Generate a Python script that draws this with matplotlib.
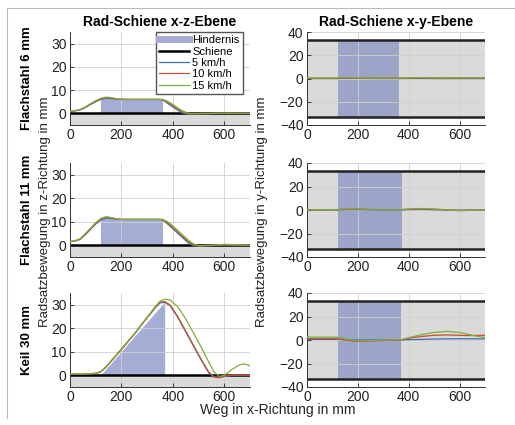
import matplotlib.pyplot as plt
from matplotlib.lines import Line2D

W, H = 515, 425

# ---- daten ----
speeds = ['5 km/h', '10 km/h', '15 km/h']
farben = ['#3f6fb0', '#c8502a', '#7fae3a']
reihen = ['Flachstahl 6 mm', 'Flachstahl 11 mm', 'Keil 30 mm']

# x-z Ebene
x1 = [0, 20, 40, 60, 80, 100, 120, 140, 160, 180, 200, 250, 300, 350, 360,
      380, 400, 420, 440, 460, 500, 600, 700]
z1_5 = [1.0, 1.1, 1.5, 2.5, 3.8, 5.0, 6.0, 6.5, 6.4, 6.1, 6.0, 6.0, 6.0, 6.0,
        5.8, 4.3, 2.8, 1.3, 0.0, -0.2, 0.0, 0.0, 0.0]
z1_10 = [1.0, 1.1, 1.6, 2.7, 4.0, 5.3, 6.3, 6.8, 6.6, 6.2, 6.0, 6.0, 6.0, 6.0,
         5.9, 4.8, 3.3, 1.8, 0.5, -0.3, 0.0, 0.0, 0.0]
z1_15 = [1.0, 1.2, 1.7, 2.8, 4.2, 5.5, 6.5, 7.0, 6.8, 6.3, 6.1, 6.0, 6.0, 6.0,
         6.0, 5.2, 3.8, 2.3, 1.0, 0.0, -0.2, 0.1, 0.0]

x2 = [0, 20, 40, 60, 80, 100, 120, 140, 160, 180, 200, 250, 300, 350, 360,
      380, 400, 420, 440, 460, 480, 500, 550, 600, 700]
z2_5 = [1.5, 1.8, 2.5, 4.5, 6.8, 9.0, 10.8, 11.5, 11.4, 11.1, 11.0, 11.0, 11.0,
        11.0, 10.8, 9.0, 7.0, 5.0, 3.0, 1.0, -0.2, -0.3, 0.0, 0.0, 0.0]
z2_10 = [1.5, 1.9, 2.7, 4.8, 7.1, 9.4, 11.2, 12.0, 11.7, 11.2, 11.0, 11.0, 11.0,
         11.0, 10.9, 9.5, 7.6, 5.6, 3.6, 1.6, 0.2, -0.3, 0.0, 0.2, 0.0]
z2_15 = [1.6, 2.0, 2.8, 5.0, 7.3, 9.6, 11.4, 12.1, 11.8, 11.3, 11.0, 11.0, 11.0,
         11.0, 11.0, 10.0, 8.2, 6.2, 4.2, 2.2, 0.6, -0.2, -0.1, 0.4, 0.0]

x3 = [0, 50, 100, 120, 140, 160, 200, 250, 300, 330, 350, 370, 390, 420, 450,
      480, 510, 540, 560, 580, 600, 630, 660, 680, 700]
z3_5 = [0.5, 0.5, 0.8, 1.5, 3.5, 6.0, 11.0, 17.5, 24.5, 28.5, 30.8, 31.0, 29.5,
        24.5, 18.5, 12.5, 6.5, 1.0, -0.8, -1.0, -0.5, 0.0, 0.0, 0.0, 0.0]
z3_10 = [0.5, 0.5, 0.8, 1.5, 3.5, 6.0, 11.0, 17.5, 24.5, 28.7, 31.2, 31.3, 29.8,
         24.8, 18.8, 12.8, 6.8, 1.3, -0.6, -1.0, -0.4, 0.0, 0.0, 0.0, 0.0]
z3_15 = [0.5, 0.5, 0.8, 1.6, 3.7, 6.2, 11.2, 17.7, 24.7, 29.0, 31.5, 32.4, 32.0,
         29.0, 24.0, 18.0, 12.0, 5.5, 1.5, -0.5, 0.0, 2.5, 4.5, 4.8, 4.0]

# x-y Ebene
xy = [0, 100, 120, 150, 200, 250, 300, 370, 400, 450, 500, 550, 600, 650, 700]
y1_5 = [0.0, 0.0, 0.0, 0.1, 0.1, 0.0, 0.0, 0.0, 0.1, 0.1, 0.0, 0.0, 0.0, 0.0, 0.0]
y1_10 = [0.2, 0.2, 0.3, 0.5, 0.3, 0.2, 0.2, 0.3, 0.4, 0.6, 0.4, 0.3, 0.3, 0.4, 0.3]
y1_15 = [0.4, 0.4, 0.5, 0.7, 0.5, 0.4, 0.4, 0.5, 0.6, 0.8, 0.6, 0.5, 0.6, 0.7, 0.6]
y2_5 = [0.0, 0.0, 0.0, 0.2, 0.3, 0.1, 0.0, 0.0, 0.3, 0.5, 0.2, 0.0, -0.2, 0.0, 0.0]
y2_10 = [0.2, 0.2, 0.3, 0.7, 0.8, 0.4, 0.2, 0.3, 0.7, 1.0, 0.6, 0.1, -0.4, -0.2, 0.2]
y2_15 = [0.3, 0.3, 0.5, 0.9, 1.0, 0.5, 0.3, 0.4, 0.9, 1.3, 0.9, 0.2, -0.6, -0.3, 0.3]
y3_5 = [0.5, 0.5, 0.5, 0.3, 0.0, 0.0, 0.0, 0.0, 0.3, 0.5, 0.8, 1.0, 1.0, 1.0, 1.0]
y3_10 = [1.2, 1.2, 1.0, 0.0, -1.0, -0.8, -0.3, 0.0, 1.5, 3.0, 4.0, 4.3, 4.0, 3.8, 4.0]
y3_15 = [2.5, 2.5, 2.3, 1.0, -0.5, -0.5, 0.0, 0.3, 2.0, 4.5, 6.5, 7.3, 6.5, 4.0, 2.0]

# Hindernisse
hind_x = [[120, 120, 360, 360], [120, 120, 360, 360], [122, 370, 370]]
hind_z = [[0, 6, 6, 0], [0, 11, 11, 0], [0, 31, 0]]
hind_y = [[120, 360], [120, 375], [120, 370]]

z_daten = [(x1, [z1_5, z1_10, z1_15]), (x2, [z2_5, z2_10, z2_15]),
           (x3, [z3_5, z3_10, z3_15])]
y_daten = [[y1_5, y1_10, y1_15], [y2_5, y2_10, y2_15], [y3_5, y3_10, y3_15]]

blau_l = '#a6add5'
blau_r = '#9ca4c8'
grau = '#dadada'

fig = plt.figure(figsize=(W / 100, H / 100), dpi=100)
plt.rcParams['font.family'] = ['Liberation Sans', 'DejaVu Sans']


def ax_px(x0, x1_, top, bot):
    return fig.add_axes([x0 / W, 1 - bot / H, (x1_ - x0) / W, (bot - top) / H])


def style(ax):
    ax.set_xlim(0, 700)
    ax.set_xticks([0, 200, 400, 600])
    ax.grid(True, color='#d0d0d0', lw=0.6)
    for s in ['top', 'right']:
        ax.spines[s].set_visible(False)
    for s in ['left', 'bottom']:
        ax.spines[s].set_color('#333333')
        ax.spines[s].set_linewidth(0.7)
    ax.tick_params(direction='in', labelsize=10, colors='#222222', length=3,
                   width=0.6, pad=2.5)
    for gl in ax.get_xgridlines() + ax.get_ygridlines():
        gl.set_zorder(1.5)


rows_px = [(32, 125), (163, 257), (293, 387)]

for i, (top, bot) in enumerate(rows_px):
    # x-z
    ax = ax_px(70, 250, top, bot)
    ax.fill_between([0, 700], -5, 0, color=grau, lw=0, zorder=1)
    ax.fill(hind_x[i], hind_z[i], color=blau_l, lw=0, zorder=1)
    ax.plot([0, 700], [0, 0], color='black', lw=1.8, zorder=2)
    xs, zs = z_daten[i]
    for k in range(3):
        ax.plot(xs, zs[k], color=farben[k], lw=0.9, zorder=3)
    ax.set_ylim(-5, 35)
    ax.set_yticks([0, 10, 20, 30])
    style(ax)
    if i == 0:
        ax.set_title('Rad-Schiene x-z-Ebene', fontsize=10, fontweight='bold',
                     pad=4)
        handles = [Line2D([], [], color=blau_l, lw=5),
                   Line2D([], [], color='black', lw=1.8)] + \
                  [Line2D([], [], color=c, lw=0.9) for c in farben]
        ax.legend(handles, ['Hindernis', 'Schiene'] + speeds,
                  loc='upper right', bbox_to_anchor=(1 - 7 / 180, 1.0),
                  fontsize=8, frameon=True, fancybox=False,
                  edgecolor='#555555', framealpha=1, handlelength=2.7,
                  labelspacing=0.12, borderpad=0.3, handletextpad=0.3,
                  borderaxespad=0.0)

    # x-y
    ax = ax_px(307, 485, top, bot)
    ax.fill_between([0, 700], -33, 33, color=grau, lw=0, zorder=1)
    ax.fill_between(hind_y[i], -33, 33, color=blau_r, lw=0, zorder=1)
    ax.plot([0, 700], [33, 33], color='#222222', lw=1.8, zorder=2)
    ax.plot([0, 700], [-33, -33], color='#222222', lw=1.8, zorder=2)
    for k in range(3):
        ax.plot(xy, y_daten[i][k], color=farben[k], lw=0.9, zorder=3)
    ax.set_ylim(-40, 40)
    ax.set_yticks([-40, -20, 0, 20, 40])
    style(ax)
    if i == 0:
        ax.set_title('Rad-Schiene x-y-Ebene', fontsize=10, fontweight='bold',
                     pad=4)

    # zeilenbeschriftung
    fig.text(27 / W, 1 - (top + bot) / 2 / H, reihen[i], rotation=90,
             ha='center', va='center', fontsize=9.5, fontweight='bold')

fig.text(45 / W, 1 - 212 / H, 'Radsatzbewegung in z-Richtung in mm',
         rotation=90, ha='center', va='center', fontsize=9.5, color='#222222')
fig.text(262 / W, 1 - 212 / H, 'Radsatzbewegung in y-Richtung in mm',
         rotation=90, ha='center', va='center', fontsize=9.5, color='#222222')
fig.text(278 / W, 1 - 410 / H, 'Weg in x-Richtung in mm', ha='center',
         va='center', fontsize=10, color='#222222')

# rahmen oben und links
fig.add_artist(Line2D([7 / W, 7 / W], [1 - 8 / H, 1 - 418 / H], color='#bbbbbb',
                      lw=0.8))
fig.add_artist(Line2D([7 / W, 1], [1 - 8 / H, 1 - 8 / H], color='#bbbbbb', lw=0.8))

fig.savefig('out.png', dpi=100)
